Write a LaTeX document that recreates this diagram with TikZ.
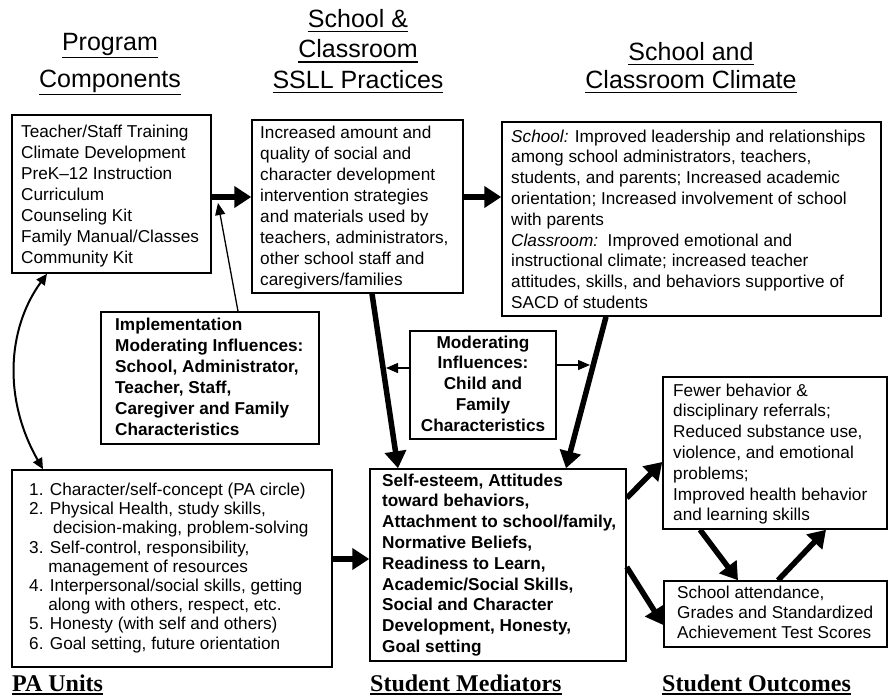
\documentclass[tikz,border=0pt]{standalone}
\usepackage{fontspec}
\setmainfont{Liberation Sans}
\newfontfamily\serifbold{Liberation Serif}[BoldFont={Liberation Serif Bold}]
\usetikzlibrary{arrows.meta}
\newcommand\fsz[2]{\fontsize{#1}{#2}\selectfont}
\newcommand\myul[2][5pt]{\setbox0=\hbox{#2}\rlap{\rule[-#1]{\wd0}{1.6pt}}\box0}
\begin{document}
\begin{tikzpicture}[x=1pt,y=-1pt,
  box/.style={draw, line width=1.5pt, inner sep=0pt},
  txt/.style={anchor=north west, inner sep=0pt, align=left},
  hdr/.style={anchor=north, inner sep=0pt, align=center},
  lbl/.style={anchor=base west, inner sep=0pt, font={\serifbold\bfseries\fsz{24}{28}}},
  bigarrow/.style={line width=5.5pt, -{Triangle[length=17pt,width=21pt]}},
  thinarrow/.style={line width=1.3pt, -{Triangle[length=12pt,width=10pt]}},
  dblarrow/.style={line width=2pt, {Triangle[length=11pt,width=10pt]}-{Triangle[length=11pt,width=10pt]}}
]
\path[use as bounding box] (0,0) rectangle (889,697);

% headers
\node[hdr, font={\fsz{25}{37}}] (h1) at (110,24.1) {\strut\myul[8pt]{Program}\\\myul[8pt]{Components}};
\node[hdr, font={\fsz{25}{30.5}}] (h2) at (358,5.7) {\strut\myul{School \&}\\\myul{Classroom}\\\myul{SSLL Practices}};
\node[hdr, font={\fsz{25}{28}}] (h3) at (691,40.4) {\strut\myul{School and}\\\myul{Classroom Climate}};

% boxes
\node[box, minimum width=199pt, minimum height=158pt] (b1) at (111.5,194) {};
\node[box, minimum width=211pt, minimum height=173pt] (b2) at (357.5,206.5) {};
\node[box, minimum width=379pt, minimum height=194pt] (b3) at (691.5,219) {};
\node[box, minimum width=218pt, minimum height=132pt] (b4) at (210,378) {};
\node[box, minimum width=146pt, minimum height=108pt] (b5) at (483,385) {};
\node[box, minimum width=320pt, minimum height=197pt] (b6) at (172,568.5) {};
\node[box, minimum width=256pt, minimum height=192pt] (b7) at (498,565) {};
\node[box, minimum width=224pt, minimum height=152pt] (b8) at (775,453) {};
\node[box, minimum width=223pt, minimum height=66pt] (b9) at (775.5,614) {};

% texts
\node[txt, font={\fsz{17.2}{21}}] (t1) at (21,122.3) {\strut Teacher/Staff Training\\Climate Development\\PreK--12 Instruction\\Curriculum\\Counseling Kit\\Family Manual/Classes\\Community Kit};
\node[txt, font={\fsz{17.2}{21}}] (t2) at (260,123.3) {\strut Increased amount and\\quality of social and\\character development\\intervention strategies\\and materials used by\\teachers, administrators,\\other school staff and\\caregivers/families};
\node[txt, font={\fsz{17.2}{20.8}}] (t3) at (511,127.4) {\strut\textit{School:} Improved leadership and relationships\\among school administrators, teachers,\\students, and parents; Increased academic\\orientation; Increased involvement of school\\with parents\\\textit{Classroom:}\ \ Improved emotional and\\instructional climate; increased teacher\\attitudes, skills, and behaviors supportive of\\SACD of students};
\node[txt, font={\bfseries\fsz{17.2}{21}}] (t4) at (115,315.3) {\strut Implementation\\Moderating Influences:\\School, Administrator,\\Teacher, Staff,\\Caregiver and Family\\Characteristics};
\node[hdr, font={\bfseries\fsz{17.2}{20.8}}] (t5) at (483,333.4) {\strut Moderating\\Influences:\\Child and\\Family\\Characteristics};
\node[txt, font={\fsz{17.2}{19.2}}] (t6) at (29,481.8) {\strut 1. Character/self-concept (PA circle)\\2. Physical Health, study skills,\\\hspace*{24pt}decision-making, problem-solving\\3. Self-control, responsibility,\\\hspace*{19.1pt}management of resources\\4. Interpersonal/social skills, getting\\\hspace*{19.1pt}along with others, respect, etc.\\5. Honesty (with self and others)\\6. Goal setting, future orientation};
\node[txt, font={\bfseries\fsz{17.2}{20.8}}] (t7) at (382,471.4) {\strut Self-esteem, Attitudes\\toward behaviors,\\Attachment to school/family,\\Normative Beliefs,\\Readiness to Learn,\\Academic/Social Skills,\\Social and Character\\Development, Honesty,\\Goal setting};
\node[txt, font={\fsz{17.2}{20.8}}] (t8) at (673,381.4) {\strut Fewer behavior \&\\disciplinary referrals;\\Reduced substance use,\\violence, and emotional\\problems;\\Improved health behavior\\and learning skills};
\node[txt, font={\fsz{17.2}{20.3}}] (t9) at (677,583.8) {\strut School attendance,\\Grades and Standardized\\Achievement Test Scores};

% bottom labels
\node[lbl] (l1) at (12,691) {\myul[4pt]{PA Units}};
\node[lbl] (l2) at (370,691) {\myul[4pt]{Student Mediators}};
\node[lbl] (l3) at (662,691) {\myul[4pt]{Student Outcomes}};

% free ends
\coordinate (c1) at (218,203);
\coordinate (c2) at (386,368);
\coordinate (c3) at (590,365);

% connectors
\draw[bigarrow] ([yshift=-3pt]b1.east) -- ([yshift=-3pt]b1.east -| b2.west);
\draw[bigarrow] ([yshift=9.5pt]b2.east) -- ([yshift=9.5pt]b2.east -| b3.west);
\draw[thinarrow] ([xshift=28pt]b4.north) -- (c1);
\draw[bigarrow] ([xshift=14.5pt]b2.south) -- ([xshift=-100pt]b7.north);
\draw[bigarrow] ([xshift=-85.5pt]b3.south) -- ([xshift=68pt]b7.north);
\draw[thinarrow] ([yshift=17pt]b5.west) -- (c2);
\draw[thinarrow] ([yshift=20pt]b5.east) -- (c3);
\draw[bigarrow] ([yshift=9.5pt]b6.east) -- ([yshift=9.5pt]b6.east -| b7.west);
\draw[bigarrow] ([yshift=67pt]b7.east) -- ([yshift=-9pt]b8.west);
\draw[bigarrow] ([yshift=-2pt]b7.east) -- ([yshift=-11pt]b9.west);
\draw[bigarrow] ([xshift=-75pt]b8.south) -- ([xshift=-37.5pt]b9.north);
\draw[bigarrow] ([xshift=2.5pt]b9.north) -- ([xshift=51pt]b8.south);
\draw[dblarrow] ([xshift=-64.5pt]b1.south) .. controls +(-40,55) and +(-40,-70) .. ([xshift=-129pt]b6.north);
\end{tikzpicture}
\end{document}
